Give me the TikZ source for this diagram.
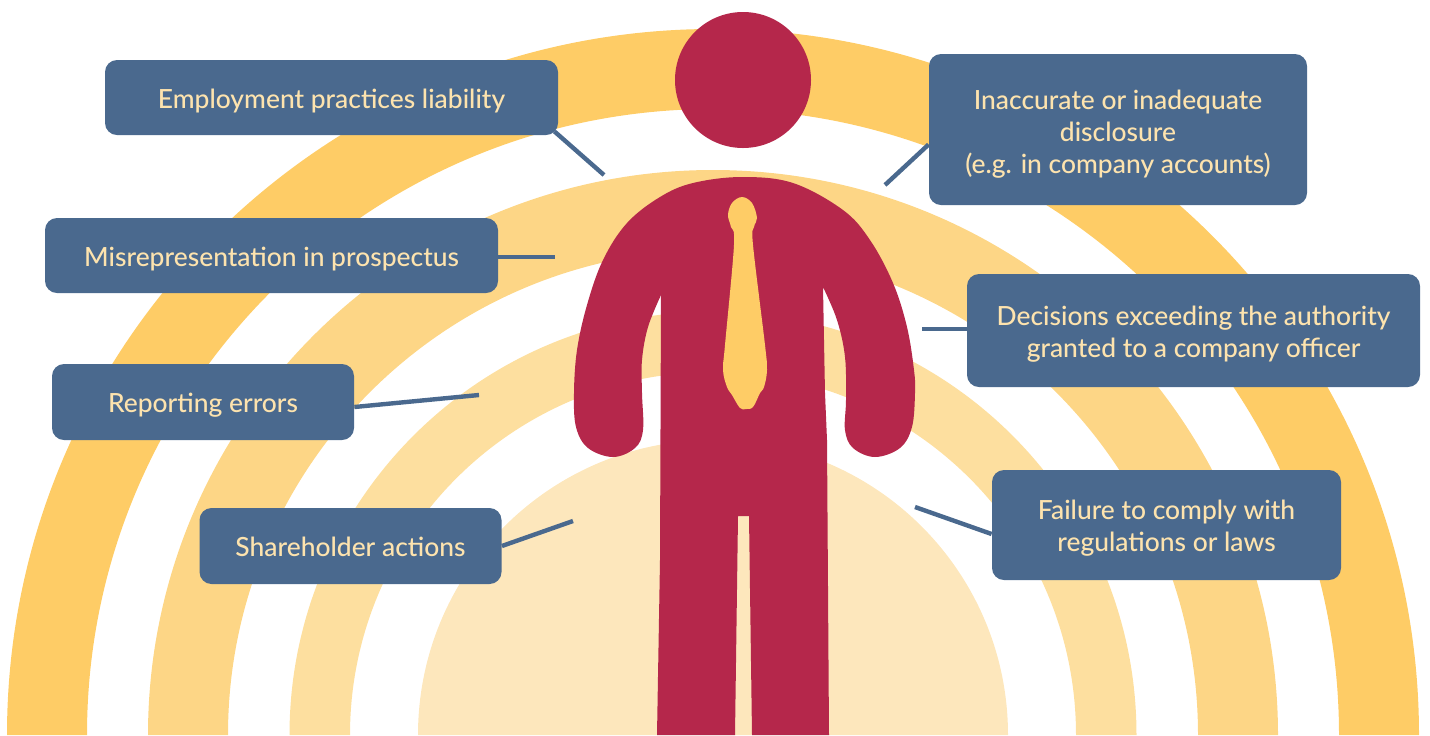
\documentclass[tikz,border=0pt]{standalone}
\usepackage{fontspec}
\setmainfont{Lato Medium}

\definecolor{ringa}{HTML}{FECC66}
\definecolor{ringb}{HTML}{FDD686}
\definecolor{ringc}{HTML}{FDDF9F}
\definecolor{ringd}{HTML}{FDE7BC}
\definecolor{figcolor}{HTML}{B5274B}
\definecolor{boxcolor}{HTML}{4A698E}
\definecolor{boxtext}{HTML}{FDE3AE}

\tikzset{
    riskbox/.style={fill=boxcolor, text=boxtext, rounded corners=6pt, inner sep=0pt, align=center, font=\fontsize{13.2}{16}\selectfont,
        text height=#1, text depth=0pt},
    riskbox/.default=10.5pt,
    riskline/.style={draw=boxcolor, line width=2.2pt}
}

\begin{document}
\begin{tikzpicture}[x=0.5pt,y=-0.5pt]
    \useasboundingbox (0,0) rectangle (1430,735);

    % Half rings and the inner disc
    \foreach \ro/\ri/\col in {706/626/ringa, 565/485/ringb, 423.5/363/ringc} {
        \fill[\col] ({713-\ro},735) arc[start angle=180,end angle=0,radius=\ro*0.5pt]
            -- ({713+\ri},735) arc[start angle=0,end angle=180,radius=\ri*0.5pt] -- cycle;
    }
    \fill[ringd] (418,735) arc[start angle=180,end angle=0,radius=147.5pt] -- cycle;

    % Head
    \fill[figcolor] (743,80) circle[radius=34pt];

    % Body with arms and legs
    \fill[figcolor] (661,295)
        -- plot[smooth,tension=0.6] coordinates {(661,295) (648,327) (642,360) (642,393) (643,430) (635,448) (613,457) (588,448) (576,427) (574,393) (577,350) (587,305) (603,260) (627,223) (660,197) (693,183) (742,177) (793,183) (843,210) (870,240) (893,283) (907,327) (914,370) (915,393) (912,427) (900,448) (875,457) (853,448) (845,430) (846,400) (845,357) (837,320) (823,287)}
        -- (825,393) -- (827,440) -- (829,735) -- (752,735) -- (749,516) -- (738,516) -- (735,735) -- (657,735) -- (660,560) -- cycle;

    % Tie
    \fill[ringa] plot[smooth cycle,tension=0.6] coordinates {(742,197) (732,203) (728,215) (731,227) (734,245) (725,345) (723,370) (727,387) (732,395) (740,408) (746,409) (753,407) (760,393) (764,387) (767,370) (765,345) (753,245) (754,227) (757,218) (752,203)};

    % Boxes on the left
    \node[riskbox, minimum width=226.5pt, minimum height=37.5pt] (employment) at (331.5,97.5) {Employment practices liability};
    \node[riskbox, minimum width=226.5pt, minimum height=37.5pt] (misrep) at (271.5,255.5) {Misrepresentation in prospectus};
    \node[riskbox, minimum width=151pt, minimum height=38pt] (reporting) at (203,402) {Reporting errors};
    \node[riskbox, minimum width=151pt, minimum height=38pt] (shareholder) at (350.5,546) {Shareholder actions};

    % Boxes on the right
    \node[riskbox=43.5pt, minimum width=189pt, minimum height=75.5pt] (disclosure) at (1118,129.5) {Inaccurate or inadequate\\disclosure\\(e.g. in company accounts)};
    \node[riskbox=26.5pt, minimum width=226.5pt, minimum height=56.5pt] (decisions) at (1193.5,330.5) {Decisions exceeding the authority\\granted to a company officer};
    \node[riskbox=26pt, minimum width=174.5pt, minimum height=55pt] (failure) at (1166.5,525) {Failure to comply with\\regulations or laws};

    % Free ends of the connectors
    \coordinate (employmentend) at (604,175);
    \coordinate (misrepend) at (555,257);
    \coordinate (reportingend) at (479,395);
    \coordinate (shareholderend) at (573,521);
    \coordinate (disclosureend) at (885,185);
    \coordinate (decisionsend) at (922,329);
    \coordinate (failureend) at (915,507);

    % Connectors
    \draw[riskline] ([xshift=-2pt,yshift=2pt]employment.south east) -- (employmentend);
    \draw[riskline] ([yshift=-0.75pt]misrep.east) -- (misrepend);
    \draw[riskline] ([yshift=-2.5pt]reporting.east) -- (reportingend);
    \draw[riskline] (shareholder.east) -- (shareholderend);
    \draw[riskline] ([yshift=-7.5pt]disclosure.west) -- (disclosureend);
    \draw[riskline] ([yshift=0.75pt]decisions.west) -- (decisionsend);
    \draw[riskline] ([yshift=-4.5pt]failure.west) -- (failureend);
\end{tikzpicture}
\end{document}
